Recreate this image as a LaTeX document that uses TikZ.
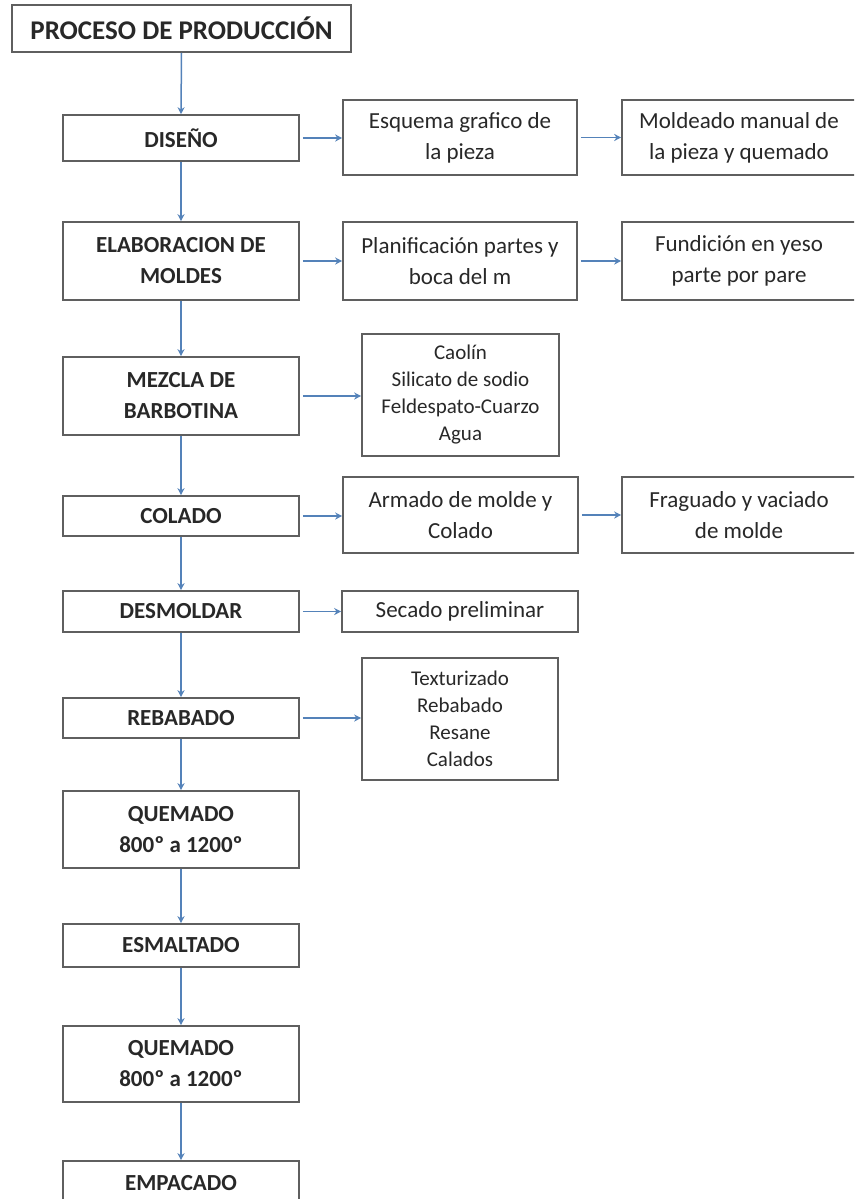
\documentclass[tikz,border=0pt]{standalone}
\usepackage{fontspec}
\setmainfont{Carlito}
\usepackage{tikz}
\usetikzlibrary{arrows.meta}

\definecolor{azul}{RGB}{84,130,185}
\definecolor{gris}{RGB}{95,95,95}
\definecolor{tinta}{RGB}{40,40,40}

\tikzset{
	caja/.style={draw=gris, line width=1.6pt, fill=white, align=center, text=tinta, inner sep=2pt},
	titular/.style={caja, font=\bfseries\fontsize{27}{32}\selectfont},
	principal/.style={caja, minimum width=236, font=\bfseries\fontsize{23}{31}\selectfont},
	detalle/.style={caja, minimum width=234, font=\fontsize{23}{31}\selectfont},
	lista/.style={caja, font=\fontsize{21}{27}\selectfont},
	flecha/.style={draw=azul, line width=1.5pt, -{Stealth[length=7pt,width=7pt]}},
}

\begin{document}
\begin{tikzpicture}[x=1pt,y=-1pt]
	
	\useasboundingbox (0,0) rectangle (854,1199);
	\clip (0,0) rectangle (854,1199);
	\fill[white] (0,0) rectangle (854,1199);
	
	% columna principal
	\node[titular, minimum width=339, minimum height=47] (titulo) at (181.5,28.5) {PROCESO DE PRODUCCIÓN};
	\node[principal, minimum height=46] (diseno) at (181,138) {DISEÑO};
	\node[principal, minimum height=78] (elaboracion) at (181,261) {ELABORACION DE\\MOLDES};
	\node[principal, minimum height=78] (mezcla) at (181,396) {MEZCLA DE\\BARBOTINA};
	\node[principal, minimum height=40] (colado) at (181,516) {COLADO};
	\node[principal, minimum height=41] (desmoldar) at (181,611.5) {DESMOLDAR};
	\node[principal, minimum height=40] (rebabado) at (181,718) {REBABADO};
	\node[principal, minimum height=77] (quemadoA) at (181,829.5) {QUEMADO\\800º a 1200º};
	\node[principal, minimum height=43] (esmaltado) at (181,945.5) {ESMALTADO};
	\node[principal, minimum height=76] (quemadoB) at (181,1064) {QUEMADO\\800º a 1200º};
	\node[principal, minimum height=44] (empacado) at (181,1183) {EMPACADO};
	
	% segunda columna
	\node[detalle, minimum height=75] (esquema) at (460,137.5) {Esquema grafico de\\la pieza};
	\node[detalle, minimum height=78] (planificacion) at (460,261) {Planificación partes y\\boca del m};
	\node[lista, minimum width=197, minimum height=122] (insumos) at (460.5,395) {Caolín\\Silicato de sodio\\Feldespato-Cuarzo\\Agua};
	\node[detalle, minimum width=235, minimum height=76] (armado) at (460.5,515) {Armado de molde y\\Colado};
	\node[detalle, minimum width=236, minimum height=41] (secado) at (460,611.5) {Secado preliminar};
	\node[lista, minimum width=196, minimum height=122] (acabados) at (460,719) {Texturizado\\Rebabado\\Resane\\Calados};
	
	% tercera columna
	\node[detalle, minimum height=75] (moldeado) at (739,137.5) {Moldeado manual de\\la pieza y quemado};
	\node[detalle, minimum height=78] (fundicion) at (739,261) {Fundición en yeso\\parte por pare};
	\node[detalle, minimum height=76] (fraguado) at (739,515) {Fraguado y vaciado\\de molde};
	
	\foreach \a/\b in {titulo/diseno, diseno/elaboracion, elaboracion/mezcla, mezcla/colado, colado/desmoldar, desmoldar/rebabado, rebabado/quemadoA, quemadoA/esmaltado, esmaltado/quemadoB, quemadoB/empacado}
		\draw[flecha] (\a.south) -- (\b.north);
	
	\foreach \a/\b in {diseno/esquema, esquema/moldeado, elaboracion/planificacion, planificacion/fundicion, mezcla/insumos, colado/armado, armado/fraguado, desmoldar/secado, rebabado/acabados}
		\draw[flecha, shorten <=3pt] (\a.east) -- (\a.east -| \b.west);
	
\end{tikzpicture}
\end{document}
